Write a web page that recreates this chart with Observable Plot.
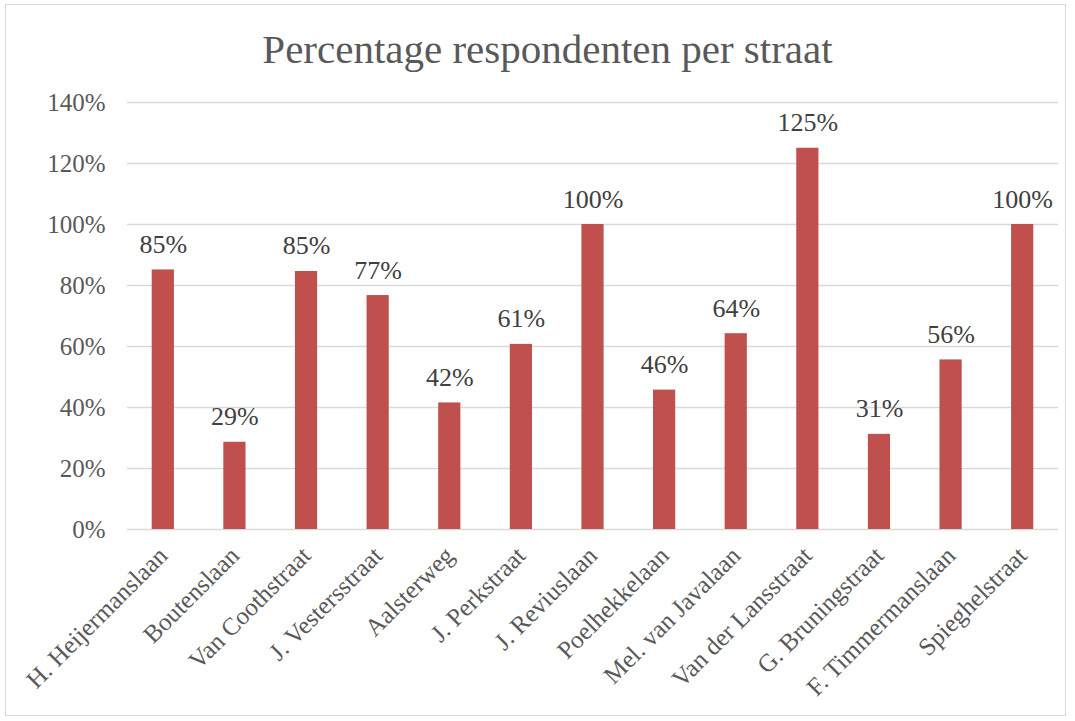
<!DOCTYPE html>
<html>
<head>
<meta charset="utf-8">
<script src="https://cdn.jsdelivr.net/npm/d3@7"></script>
<script src="https://cdn.jsdelivr.net/npm/@observablehq/plot@0.6"></script>
<style>
  html, body { margin: 0; padding: 0; background: #fff; }
  #wrap { position: relative; width: 1075px; height: 721px; overflow: hidden; }
  #frame { position: absolute; left: 5px; top: 4px; width: 1061px; height: 712px; border: 1.5px solid #d9d9d9; box-sizing: border-box; }
  #title { position: absolute; left: 0; top: 0; width: 1075px; height: 80px; text-align: center;
           font-family: "Liberation Serif", serif; font-size: 41px; color: #595959; line-height: 98px; padding-left: 20px; box-sizing: border-box; }
  #chart { position: absolute; left: 0; top: 80px; }
  svg text { font-family: "Liberation Serif", serif; }
</style>
</head>
<body>
<div id="wrap">
  <div id="frame"></div>
  <div id="title">Percentage respondenten per straat</div>
  <div id="chart"></div>
</div>
<script>
const streets = ["H. Heijermanslaan", "Boutenslaan", "Van Coothstraat", "J. Vestersstraat", "Aalsterweg", "J. Perkstraat", "J. Reviuslaan", "Poelhekkelaan", "Mel. van Javalaan", "Van der Lansstraat", "G. Bruningstraat", "F. Timmermanslaan", "Spieghelstraat"];
const percentages = [85.1, 28.6, 84.6, 76.7, 41.5, 60.7, 100, 45.7, 64.2, 125, 31.2, 55.6, 100];
const yTicks = [0, 20, 40, 60, 80, 100, 120, 140];

const data = streets.map((s, i) => ({street: s, value: percentages[i]}));

const chart = Plot.plot({
  width: 1075,
  height: 630,
  marginLeft: 127,
  marginRight: 17,
  marginTop: 22,
  marginBottom: 181,
  style: {fontFamily: "'Liberation Serif', serif", fontSize: "25px", color: "#595959", background: "transparent"},
  x: {domain: streets, paddingInner: 0.69, paddingOuter: 0.345, round: false, label: null},
  y: {domain: [0, 140], label: null},
  marks: [
    Plot.gridY(yTicks, {stroke: "#d9d9d9", strokeOpacity: 1, strokeWidth: 1.5}),
    Plot.axisY(yTicks, {tickSize: 0, tickPadding: 22, tickFormat: d => d + "%", fontSize: 25, fill: "#595959", label: null}),
    Plot.axisX({tickSize: 0, tickPadding: 22, tickRotate: -45, fontSize: 25, fill: "#595959", label: null}),
    Plot.barY(data, {x: "street", y: "value", fill: "#c0504d"}),
    Plot.text(data, {x: "street", y: "value", text: d => Math.round(d.value) + "%", dy: -17, lineAnchor: "bottom", fontSize: 26, fill: "#404040"})
  ]
});
document.getElementById("chart").appendChild(chart);
</script>
</body>
</html>
